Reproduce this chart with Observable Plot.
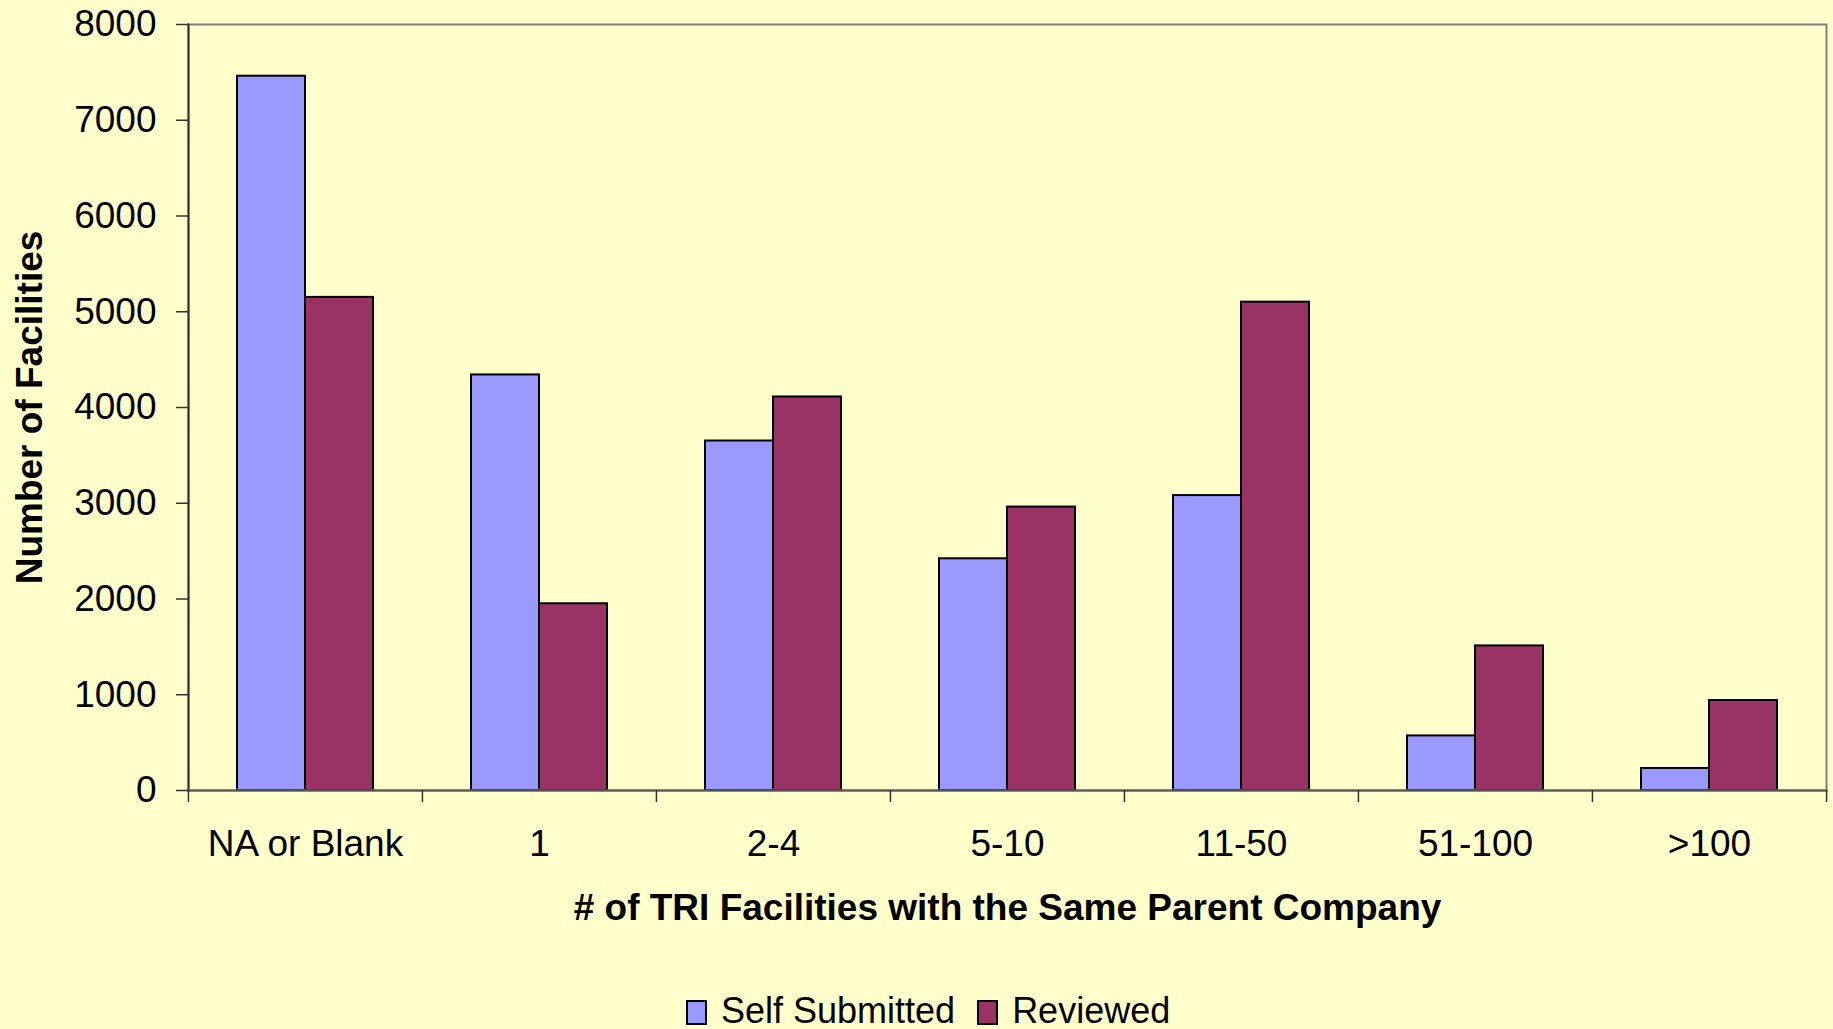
<!DOCTYPE html>
<html><head><meta charset="utf-8">
<script src="https://cdn.jsdelivr.net/npm/d3@7"></script>
<script src="https://cdn.jsdelivr.net/npm/@observablehq/plot@0.6"></script>
<style>
html,body{margin:0;padding:0;background:#FFFFCC;}
body{width:1833px;height:1029px;overflow:hidden;font-family:"Liberation Sans",Arial,sans-serif;}
#legend{display:flex;align-items:flex-end;padding-left:686px;padding-top:18px;font-size:36px;line-height:36px;color:#000;}
.item{display:flex;align-items:flex-end;margin-right:22px;}
.sw{width:17px;height:21px;border:2px solid #000;margin-right:14px;margin-bottom:4px;}
</style></head>
<body><div id="chart"></div><div id="legend"></div>
<script>
const categories = ["NA or Blank", "1", "2-4", "5-10", "11-50", "51-100", ">100"];
const selfSubmitted = [7460, 4340, 3650, 2420, 3080, 570, 230];
const reviewed = [5150, 1950, 4110, 2960, 5100, 1510, 940];
const seriesNames = ["Self Submitted", "Reviewed"];
const seriesColors = ["#9999FF", "#993366"];
const yTicks = [0, 1000, 2000, 3000, 4000, 5000, 6000, 7000, 8000];
const xTitle = "# of TRI Facilities with the Same Parent Company";
const yTitle = "Number of Facilities";

const data = categories.flatMap((c, i) => [
  {category: c, series: seriesNames[0], value: selfSubmitted[i]},
  {category: c, series: seriesNames[1], value: reviewed[i]}
]);

const W = 1833, H = 975, mL = 187, mR = 7, mT = 24, mB = 185;
const step = (W - mL - mR) / categories.length;

const chart = Plot.plot({
  width: W, height: H,
  marginLeft: mL, marginRight: mR, marginTop: mT, marginBottom: mB,
  style: {background: "#FFFFCC", fontFamily: "'Liberation Sans', Arial, sans-serif", fontSize: "37px", color: "#000"},
  fx: {domain: categories, padding: 0, label: null},
  x: {domain: seriesNames, paddingInner: 0, paddingOuter: 0.72, axis: null},
  y: {domain: [0, 8000], label: null},
  color: {domain: seriesNames, range: seriesColors},
  marks: [
    Plot.barY(data, {fx: "category", x: "series", y: "value", fill: "series", stroke: "#000", strokeWidth: 2}),
    Plot.frame({facet: "super", stroke: "#808080", strokeWidth: 2}),
    Plot.frame({facet: "super", anchor: "left", stroke: "#333", strokeWidth: 2}),
    Plot.frame({facet: "super", anchor: "bottom", stroke: "#555", strokeWidth: 2}),
    Plot.axisY({ticks: yTicks, tickSize: 12, tickPadding: 20, tickFormat: d => String(d), label: null, stroke: "#333", strokeWidth: 1.5}),
    Plot.axisY({ticks: [], tickSize: 0, label: yTitle, labelAnchor: "center", labelArrow: "none", labelOffset: 173, fontWeight: "bold"}),
    Plot.axisFx({anchor: "bottom", tickSize: 0, tickPadding: 39, label: null}),
    Plot.axisFx({anchor: "bottom", tickSize: 12, fill: "none", label: null, dx: -step / 2, stroke: "#333", strokeWidth: 1.5}),
    Plot.axisFx({anchor: "bottom", ticks: [categories[categories.length - 1]], tickSize: 12, fill: "none", label: null, dx: step / 2, stroke: "#333", strokeWidth: 1.5}),
    Plot.axisFx({anchor: "bottom", ticks: [], tickSize: 0, label: xTitle, labelAnchor: "center", labelArrow: "none", labelOffset: 129, fontWeight: "bold"})
  ]
});
document.getElementById("chart").appendChild(chart);

const legend = document.getElementById("legend");
seriesNames.forEach((name, i) => {
  const item = document.createElement("div");
  item.className = "item";
  const sw = document.createElement("div");
  sw.className = "sw";
  sw.style.background = seriesColors[i];
  const label = document.createElement("span");
  label.textContent = name;
  item.appendChild(sw);
  item.appendChild(label);
  legend.appendChild(item);
});
</script>
</body></html>
